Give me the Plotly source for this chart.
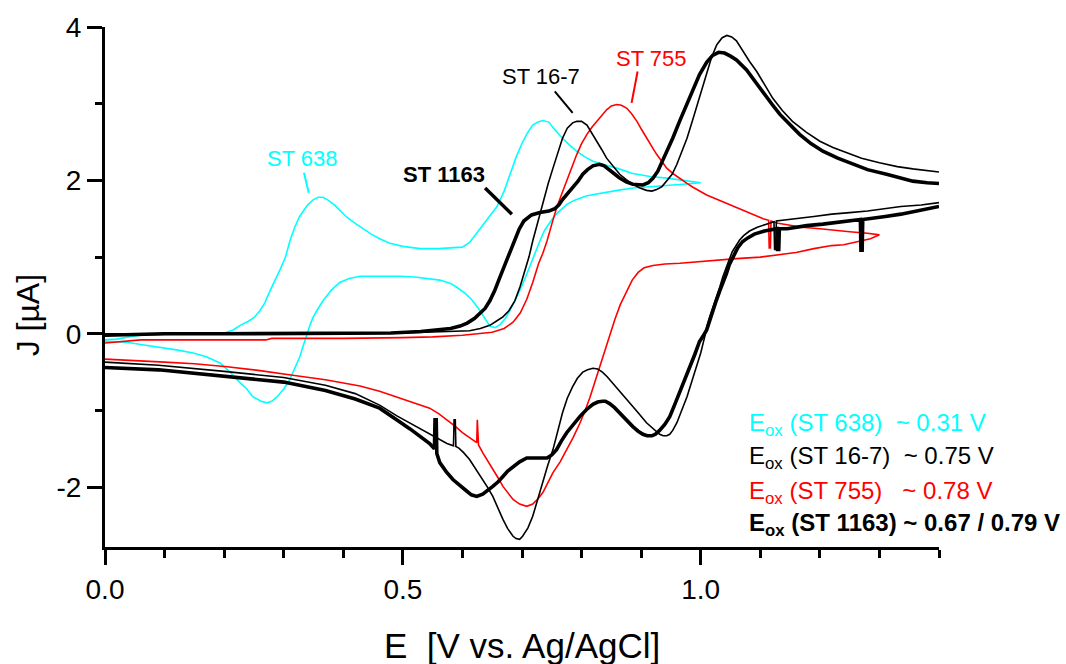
import plotly.graph_objects as go

# ---------------- data (E in V vs Ag/AgCl, J in µA) ----------------
# ST 638 (cyan) - closed loop: forward then reverse
E638_fwd = [0.0, 0.02, 0.04, 0.06, 0.1, 0.15, 0.18, 0.2, 0.215, 0.227, 0.24, 0.25, 0.26, 0.268, 0.277, 0.286,
            0.294, 0.303, 0.31, 0.318, 0.326, 0.333, 0.34, 0.35, 0.358, 0.366, 0.375, 0.385, 0.395, 0.406, 0.42,
            0.433, 0.447, 0.461, 0.478, 0.5, 0.529, 0.56, 0.585, 0.6, 0.612, 0.624, 0.64, 0.658, 0.67, 0.68, 0.69,
            0.701, 0.71, 0.718, 0.727, 0.735, 0.745, 0.752, 0.76, 0.768, 0.78, 0.792, 0.805, 0.819, 0.84, 0.859,
            0.886, 0.915, 0.943, 0.97, 1.0]
J638_fwd = [-0.08, -0.07, -0.04, -0.02, -0.01, 0.0, 0.0, 0.01, 0.05, 0.11, 0.16, 0.21, 0.3, 0.4, 0.56, 0.7,
            0.84, 1.0, 1.2, 1.38, 1.52, 1.6, 1.68, 1.75, 1.78, 1.78, 1.74, 1.68, 1.6, 1.52, 1.44,
            1.37, 1.3, 1.24, 1.18, 1.14, 1.11, 1.11, 1.12, 1.13, 1.19, 1.31, 1.47, 1.66, 1.86, 2.08, 2.3,
            2.5, 2.63, 2.72, 2.76, 2.78, 2.76, 2.69, 2.62, 2.55, 2.46, 2.38, 2.31, 2.25, 2.2, 2.16,
            2.09, 2.05, 2.03, 2.0, 1.97]
E638_rev = [1.0, 0.97, 0.94, 0.914, 0.886, 0.86, 0.83, 0.809, 0.795, 0.785, 0.776, 0.768, 0.76, 0.752, 0.745,
            0.738, 0.73, 0.722, 0.713, 0.705, 0.696, 0.688, 0.68, 0.672, 0.663, 0.655, 0.646, 0.636, 0.626,
            0.615, 0.604, 0.59, 0.579, 0.562, 0.545, 0.52, 0.495, 0.46, 0.428, 0.41, 0.394, 0.38, 0.366, 0.357,
            0.349, 0.344, 0.339, 0.333, 0.327, 0.318, 0.31, 0.3, 0.289, 0.28, 0.272, 0.262, 0.255, 0.248, 0.238,
            0.227, 0.21, 0.193, 0.17, 0.148, 0.12, 0.092, 0.06, 0.037, 0.0]
J638_rev = [1.97, 1.95, 1.93, 1.92, 1.9, 1.87, 1.83, 1.8, 1.76, 1.73, 1.69, 1.64, 1.58, 1.51, 1.43,
            1.35, 1.21, 1.05, 0.89, 0.72, 0.56, 0.43, 0.31, 0.2, 0.12, 0.08, 0.1, 0.22, 0.34,
            0.45, 0.53, 0.61, 0.66, 0.7, 0.72, 0.74, 0.75, 0.75, 0.75, 0.72, 0.67, 0.57, 0.43, 0.32,
            0.21, 0.11, 0.0, -0.15, -0.3, -0.46, -0.6, -0.72, -0.82, -0.88, -0.9, -0.88, -0.85, -0.82, -0.72,
            -0.64, -0.5, -0.38, -0.3, -0.25, -0.21, -0.18, -0.14, -0.11, -0.1]

# ST 16-7 (thin black)
E167_fwd = [0.0, 0.1, 0.2, 0.3, 0.4, 0.5, 0.55, 0.59, 0.612, 0.63, 0.646, 0.658, 0.668, 0.678, 0.688, 0.697,
            0.705, 0.712, 0.718, 0.727, 0.735, 0.744, 0.752, 0.76, 0.768, 0.776, 0.785, 0.792, 0.8, 0.809,
            0.817, 0.826, 0.834, 0.842, 0.853, 0.864, 0.875, 0.886, 0.898, 0.909, 0.918, 0.926, 0.935, 0.943,
            0.952, 0.96, 0.968, 0.977, 0.987, 0.995, 1.002, 1.01, 1.018, 1.027, 1.036, 1.044, 1.052, 1.06,
            1.07, 1.082, 1.094, 1.108, 1.121, 1.137, 1.154, 1.177, 1.2, 1.222, 1.245, 1.27, 1.3, 1.33, 1.356,
            1.38, 1.4]
J167_fwd = [0.0, 0.0, 0.0, 0.0, 0.0, 0.01, 0.02, 0.03, 0.04, 0.07, 0.11, 0.17, 0.22, 0.3, 0.43, 0.62,
            0.82, 1.01, 1.21, 1.47, 1.73, 1.96, 2.16, 2.36, 2.55, 2.68, 2.75, 2.77, 2.77, 2.72,
            2.62, 2.51, 2.4, 2.29, 2.18, 2.08, 2.01, 1.95, 1.9, 1.87, 1.86, 1.88, 1.92, 1.99,
            2.08, 2.21, 2.36, 2.55, 2.8, 3.0, 3.17, 3.4, 3.6, 3.77, 3.86, 3.89, 3.87, 3.82,
            3.69, 3.55, 3.42, 3.24, 3.07, 2.91, 2.77, 2.63, 2.51, 2.43, 2.36, 2.29, 2.23, 2.18, 2.15,
            2.13, 2.11]
E167_rev = [1.4, 1.37, 1.336, 1.31, 1.28, 1.25, 1.22, 1.19, 1.166, 1.14, 1.127, 1.126, 1.124, 1.123, 1.11,
            1.095, 1.082, 1.072, 1.065, 1.058, 1.053, 1.048, 1.043, 1.037, 1.032, 1.026, 1.02, 1.015, 1.01,
            1.007, 1.0, 0.993, 0.985, 0.977, 0.968, 0.96, 0.953, 0.948, 0.943, 0.937, 0.931, 0.92, 0.909,
            0.895, 0.881, 0.866, 0.852, 0.843, 0.835, 0.827, 0.819, 0.81, 0.802, 0.793, 0.785, 0.776, 0.768,
            0.76, 0.752, 0.743, 0.735, 0.726, 0.718, 0.71, 0.701, 0.696, 0.69, 0.685, 0.676, 0.668, 0.66,
            0.651, 0.642, 0.634, 0.623, 0.612, 0.602, 0.594, 0.589, 0.588, 0.586, 0.585, 0.574, 0.56, 0.545,
            0.53, 0.517, 0.49, 0.461, 0.42, 0.37, 0.3, 0.2, 0.09, 0.0]
J167_rev = [1.71, 1.68, 1.66, 1.63, 1.6, 1.58, 1.56, 1.53, 1.51, 1.48, 1.47, 1.1, 1.1, 1.46, 1.43,
            1.39, 1.34, 1.28, 1.22, 1.14, 1.07, 0.97, 0.87, 0.74, 0.61, 0.48, 0.35, 0.22, 0.09,
            -0.03, -0.25, -0.43, -0.62, -0.82, -1.0, -1.16, -1.26, -1.31, -1.33, -1.33, -1.31, -1.24, -1.16,
            -1.03, -0.9, -0.77, -0.64, -0.56, -0.5, -0.46, -0.45, -0.47, -0.5, -0.58, -0.69, -0.84, -1.03,
            -1.26, -1.51, -1.72, -1.94, -2.16, -2.38, -2.53, -2.64, -2.68, -2.67, -2.64, -2.54, -2.42, -2.27,
            -2.12, -2.0, -1.9, -1.77, -1.64, -1.55, -1.49, -1.47, -1.12, -1.12, -1.46, -1.43, -1.37, -1.31,
            -1.24, -1.18, -1.07, -0.93, -0.78, -0.67, -0.57, -0.49, -0.41, -0.37]

# ST 755 (red) - closed loop
E755_fwd = [0.0, 0.03, 0.06, 0.15, 0.27, 0.28, 0.4, 0.5, 0.55, 0.6, 0.63, 0.65, 0.67, 0.685, 0.697, 0.708,
            0.718, 0.728, 0.735, 0.742, 0.75, 0.758, 0.767, 0.775, 0.783, 0.792, 0.8, 0.809, 0.818, 0.826,
            0.834, 0.842, 0.85, 0.859, 0.867, 0.876, 0.884, 0.893, 0.901, 0.909, 0.918, 0.926, 0.935, 0.943,
            0.955, 0.965, 0.977, 0.987, 1.0, 1.01, 1.025, 1.037, 1.05, 1.065, 1.08, 1.094, 1.105, 1.114, 1.115,
            1.117, 1.118, 1.13, 1.15, 1.17, 1.2, 1.22, 1.25, 1.28, 1.3]
J755_fwd = [-0.12, -0.1, -0.08, -0.08, -0.08, -0.06, -0.06, -0.05, -0.04, -0.02, 0.0, 0.02, 0.07, 0.15, 0.27, 0.45,
            0.67, 0.92, 1.05, 1.21, 1.43, 1.64, 1.83, 1.99, 2.17, 2.34, 2.48, 2.6, 2.7, 2.77,
            2.85, 2.92, 2.97, 2.99, 2.98, 2.94, 2.87, 2.77, 2.66, 2.55, 2.44, 2.34, 2.25, 2.16,
            2.08, 2.02, 1.96, 1.91, 1.85, 1.81, 1.76, 1.72, 1.68, 1.63, 1.58, 1.54, 1.5, 1.48, 1.12,
            1.12, 1.47, 1.44, 1.41, 1.39, 1.37, 1.35, 1.33, 1.31, 1.29]
E755_rev = [1.3, 1.285, 1.265, 1.24, 1.22, 1.19, 1.16, 1.128, 1.1, 1.06, 1.03, 1.0, 0.965, 0.94, 0.92, 0.905,
            0.895, 0.885, 0.875, 0.865, 0.856, 0.847, 0.838, 0.83, 0.822, 0.814, 0.806, 0.797, 0.786, 0.775,
            0.764, 0.752, 0.743, 0.735, 0.726, 0.718, 0.708, 0.696, 0.685, 0.677, 0.668, 0.66, 0.651, 0.643,
            0.634, 0.627, 0.626, 0.625, 0.624, 0.612, 0.6, 0.587, 0.574, 0.56, 0.545, 0.53, 0.517, 0.49, 0.461,
            0.428, 0.37, 0.315, 0.26, 0.205, 0.15, 0.1, 0.05, 0.0]
J755_rev = [1.29, 1.24, 1.2, 1.16, 1.15, 1.11, 1.06, 1.03, 1.0, 0.98, 0.96, 0.94, 0.92, 0.91, 0.89, 0.86,
            0.8, 0.7, 0.55, 0.38, 0.19, -0.03, -0.24, -0.44, -0.64, -0.83, -1.0, -1.17, -1.35, -1.52,
            -1.67, -1.81, -1.95, -2.07, -2.16, -2.22, -2.25, -2.22, -2.16, -2.08, -1.99, -1.88, -1.77, -1.66,
            -1.55, -1.45, -1.12, -1.12, -1.42, -1.35, -1.29, -1.2, -1.12, -1.04, -0.97, -0.93, -0.89, -0.82, -0.75,
            -0.68, -0.6, -0.54, -0.48, -0.43, -0.39, -0.37, -0.35, -0.33]

# ST 1163 (thick black)
E1163_fwd = [0.0, 0.05, 0.1, 0.2, 0.3, 0.4, 0.48, 0.53, 0.562, 0.58, 0.596, 0.608, 0.62, 0.63, 0.638, 0.646,
             0.654, 0.662, 0.671, 0.68, 0.688, 0.695, 0.703, 0.716, 0.73, 0.745, 0.755, 0.762, 0.768, 0.777,
             0.785, 0.794, 0.802, 0.81, 0.819, 0.83, 0.838, 0.847, 0.856, 0.864, 0.875, 0.886, 0.895, 0.903,
             0.912, 0.92, 0.928, 0.936, 0.945, 0.953, 0.965, 0.977, 0.987, 0.998, 1.01, 1.02, 1.03, 1.04, 1.05,
             1.06, 1.077, 1.09, 1.104, 1.12, 1.133, 1.15, 1.166, 1.185, 1.205, 1.23, 1.255, 1.28, 1.312, 1.335,
             1.356, 1.38, 1.4]
J1163_fwd = [-0.02, -0.01, 0.0, 0.0, 0.0, 0.0, 0.01, 0.03, 0.05, 0.07, 0.1, 0.14, 0.2, 0.27, 0.33, 0.43,
             0.56, 0.72, 0.89, 1.06, 1.21, 1.36, 1.47, 1.55, 1.58, 1.6, 1.63, 1.68, 1.75, 1.83,
             1.9, 1.99, 2.08, 2.14, 2.19, 2.21, 2.19, 2.14, 2.08, 2.03, 1.98, 1.95, 1.94, 1.94,
             1.97, 2.03, 2.12, 2.25, 2.4, 2.55, 2.78, 2.99, 3.18, 3.38, 3.54, 3.63, 3.67, 3.66, 3.62,
             3.57, 3.44, 3.3, 3.16, 2.99, 2.86, 2.72, 2.6, 2.48, 2.38, 2.29, 2.21, 2.14, 2.08, 2.03,
             1.99, 1.97, 1.96]
E1163_rev = [1.4, 1.37, 1.336, 1.31, 1.28, 1.272, 1.271, 1.269, 1.268, 1.25, 1.233, 1.205, 1.178, 1.16, 1.145,
             1.132, 1.131, 1.129, 1.128, 1.107, 1.09, 1.079, 1.07, 1.062, 1.055, 1.048, 1.043, 1.037, 1.032,
             1.026, 1.02, 1.015, 1.01, 1.004, 0.998, 0.99, 0.982, 0.974, 0.965, 0.956, 0.948, 0.94, 0.931,
             0.924, 0.918, 0.91, 0.903, 0.895, 0.886, 0.875, 0.864, 0.855, 0.847, 0.84, 0.835, 0.827, 0.819,
             0.808, 0.797, 0.786, 0.775, 0.766, 0.758, 0.75, 0.742, 0.725, 0.708, 0.696, 0.685, 0.676, 0.668,
             0.66, 0.651, 0.642, 0.634, 0.624, 0.615, 0.607, 0.596, 0.584, 0.573, 0.562, 0.557, 0.556, 0.554,
             0.553, 0.545, 0.53, 0.512, 0.495, 0.478, 0.461, 0.42, 0.37, 0.3, 0.2, 0.09, 0.0]
J1163_rev = [1.66, 1.61, 1.56, 1.53, 1.5, 1.49, 1.09, 1.09, 1.49, 1.47, 1.45, 1.43, 1.41, 1.39, 1.37,
             1.37, 1.1, 1.1, 1.37, 1.34, 1.3, 1.25, 1.2, 1.12, 1.02, 0.9, 0.78, 0.67, 0.56,
             0.43, 0.3, 0.18, 0.05, -0.03, -0.1, -0.27, -0.43, -0.6, -0.77, -0.93, -1.08, -1.18, -1.26,
             -1.31, -1.33, -1.33, -1.31, -1.27, -1.21, -1.12, -1.03, -0.96, -0.91, -0.88, -0.88, -0.89, -0.92,
             -0.99, -1.08, -1.18, -1.29, -1.4, -1.51, -1.58, -1.62, -1.62, -1.62, -1.67, -1.73, -1.79, -1.86,
             -1.93, -1.99, -2.05, -2.09, -2.12, -2.1, -2.05, -1.98, -1.9, -1.8, -1.68, -1.56, -1.12, -1.12,
             -1.5, -1.43, -1.34, -1.24, -1.15, -1.06, -0.97, -0.85, -0.74, -0.63, -0.55, -0.47, -0.44]

# axis ticks
x_major = [0.0, 0.5, 1.0]
x_major_text = ["0.0", "0.5", "1.0"]
y_major = [-2, 0, 2, 4]
y_major_text = ["-2", "0", "2", "4"]

CYAN = "#00FFFF"
RED = "#FF0000"
BLACK = "#000000"
FONT = "Liberation Sans, Arial, sans-serif"

fig = go.Figure()

series = [
    (E638_fwd + E638_rev, J638_fwd + J638_rev, CYAN, 1.6, "ST 638"),
    (E755_fwd + E755_rev, J755_fwd + J755_rev, RED, 1.6, "ST 755"),
    (E167_fwd, J167_fwd, BLACK, 1.6, "ST 16-7"),
    (E167_rev, J167_rev, BLACK, 1.6, "ST 16-7 rev"),
    (E1163_fwd, J1163_fwd, BLACK, 3.6, "ST 1163"),
    (E1163_rev, J1163_rev, BLACK, 3.6, "ST 1163 rev"),
]
for xs, ys, col, w, name in series:
    fig.add_trace(go.Scatter(x=xs, y=ys, mode="lines", name=name,
                             line=dict(color=col, width=w), showlegend=False,
                             hoverinfo="skip"))

# curve labels and pointer lines
labels = [
    ("ST 638", 0.332, 2.28, CYAN, False, (0.334, 2.10, 0.342, 1.84), 2),
    ("ST 1163", 0.569, 2.08, BLACK, True, (0.638, 1.90, 0.683, 1.56), 3.5),
    ("ST 16-7", 0.732, 3.36, BLACK, False, (0.755, 3.16, 0.785, 2.88), 2),
    ("ST 755", 0.918, 3.59, RED, False, (0.894, 3.42, 0.884, 3.01), 2),
]
for txt, lx, ly, col, bold, (x0, y0, x1, y1), lw in labels:
    fig.add_annotation(x=lx, y=ly, xref="x", yref="y", showarrow=False,
                       text=f"<b>{txt}</b>" if bold else txt,
                       font=dict(family=FONT, size=22, color=col),
                       xanchor="center", yanchor="middle")
    fig.add_shape(type="line", x0=x0, y0=y0, x1=x1, y1=y1, xref="x", yref="y",
                  line=dict(color=col, width=lw))

NB = "\u00a0"
eox_lines = [
    (f"E<sub>ox</sub> (ST 638){NB}{NB}~ 0.31 V", CYAN, False, -0.955),
    (f"E<sub>ox</sub> (ST 16-7){NB}{NB}~ 0.75 V", BLACK, False, -1.383),
    (f"E<sub>ox</sub> (ST 755){NB}{NB}{NB}~ 0.78 V", RED, False, -1.838),
    (f"E<sub>ox</sub> (ST 1163) ~ 0.67 / 0.79 V", BLACK, True, -2.253),
]
for t, c, b, ytop in eox_lines:
    fig.add_annotation(x=1.077, y=ytop, xref="x", yref="y", showarrow=False,
                       text=f"<b>{t}</b>" if b else t, align="left",
                       xanchor="left", yanchor="top",
                       font=dict(family=FONT, size=24, color=c))

# axis titles
fig.add_annotation(x=0.5, y=-0.1885, xref="paper", yref="paper", showarrow=False,
                   text=f"E{NB}{NB}[V vs. Ag/AgCl]", xanchor="center", yanchor="middle",
                   font=dict(family=FONT, size=35, color=BLACK))
fig.add_annotation(x=-0.092, y=0.446, xref="paper", yref="paper", showarrow=False,
                   text="J [µA]", textangle=-90, xanchor="center", yanchor="middle",
                   font=dict(family=FONT, size=32, color=BLACK))

axis_common = dict(showgrid=False, zeroline=False, showline=True, linewidth=3,
                   linecolor=BLACK, ticks="outside", tickwidth=3, tickcolor=BLACK,
                   ticklen=15, mirror=False,
                   tickfont=dict(family=FONT, size=28, color=BLACK))
fig.update_xaxes(range=[0, 1.4], tickvals=x_major, ticktext=x_major_text,
                 minor=dict(dtick=0.1, tick0=0, ticks="outside", ticklen=8, tickwidth=2.5,
                            tickcolor=BLACK, showgrid=False),
                 **axis_common)
fig.update_yaxes(range=[-2.78, 4.0], tickvals=y_major, ticktext=y_major_text,
                 minor=dict(dtick=1, tick0=0, ticks="outside", ticklen=7, tickwidth=2.5,
                            tickcolor=BLACK, showgrid=False),
                 **axis_common)

fig.update_layout(width=1066, height=664, margin=dict(l=105, r=127, t=27, b=117),
                  plot_bgcolor="white", paper_bgcolor="white", showlegend=False,
                  font=dict(family=FONT))

fig.write_html("out.html")
